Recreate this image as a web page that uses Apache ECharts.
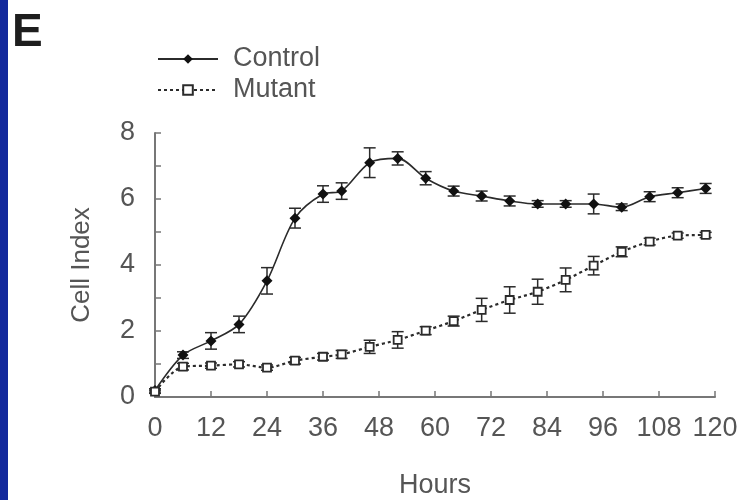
<!DOCTYPE html>
<html>
<head>
<meta charset="utf-8">
<script src="https://cdn.jsdelivr.net/npm/echarts@6/dist/echarts.min.js"></script>
<style>
  html, body { margin: 0; padding: 0; background: #fff; }
  #board { width: 748px; height: 500px; }
</style>
</head>
<body>
<div id="board"></div>
<script>
// time points (hours)
var hours = [0, 6, 12, 18, 24, 30, 36, 40, 46, 52, 58, 64, 70, 76, 82, 88, 94, 100, 106, 112, 118];
// Control
var controlMean = [0.2, 1.27, 1.7, 2.2, 3.52, 5.42, 6.15, 6.24, 7.1, 7.23, 6.63, 6.24, 6.09, 5.94, 5.85, 5.85, 5.85, 5.75, 6.07, 6.19, 6.32];
var controlErr = [0.05, 0.1, 0.25, 0.25, 0.4, 0.3, 0.25, 0.25, 0.45, 0.2, 0.2, 0.15, 0.15, 0.15, 0.1, 0.1, 0.3, 0.1, 0.15, 0.15, 0.15];
// Mutant
var mutantMean = [0.16, 0.92, 0.95, 0.99, 0.89, 1.1, 1.22, 1.29, 1.52, 1.73, 2.01, 2.3, 2.64, 2.94, 3.19, 3.55, 3.98, 4.4, 4.71, 4.89, 4.91];
var mutantErr = [0.05, 0.1, 0.08, 0.08, 0.08, 0.1, 0.1, 0.12, 0.2, 0.25, 0.12, 0.15, 0.35, 0.4, 0.38, 0.36, 0.28, 0.15, 0.1, 0.08, 0.08];
// axis ticks
var yTicks = [0, 2, 4, 6, 8];
var xTicks = [0, 12, 24, 36, 48, 60, 72, 84, 96, 108, 120];

var dark = "#2b2b2b";
var grayText = "#555";

function pairs(mean) {
  return hours.map(function (h, i) { return [h, mean[i]]; });
}
function errData(mean, err) {
  return hours.map(function (h, i) { return [h, mean[i] - err[i], mean[i] + err[i]]; });
}
function errRender(params, api) {
  var x = api.value(0);
  var lo = api.coord([x, api.value(1)]);
  var hi = api.coord([x, api.value(2)]);
  var w = 6;
  var st = { stroke: dark, lineWidth: 1.5 };
  return {
    type: "group",
    children: [
      { type: "line", shape: { x1: lo[0], y1: lo[1], x2: hi[0], y2: hi[1] }, style: st },
      { type: "line", shape: { x1: lo[0] - w, y1: lo[1], x2: lo[0] + w, y2: lo[1] }, style: st },
      { type: "line", shape: { x1: hi[0] - w, y1: hi[1], x2: hi[0] + w, y2: hi[1] }, style: st }
    ]
  };
}

var chart = echarts.init(document.getElementById("board"));
chart.setOption({
  animation: false,
  backgroundColor: "#fff",
  textStyle: { fontFamily: "Liberation Sans, Arial, sans-serif" },
  graphic: [
    { type: "rect", left: 0, top: 0, shape: { width: 8, height: 500 }, style: { fill: "#13299c" } },
    { type: "text", left: 12, top: 10, style: { text: "E", font: "bold 46px Liberation Sans, Arial, sans-serif", fill: "#1e1e1e" } }
  ],
  legend: {
    orient: "vertical",
    left: 157,
    top: 45,
    padding: 0,
    itemWidth: 60,
    itemHeight: 12,
    itemGap: 3,
    textStyle: { fontSize: 27, color: grayText, lineHeight: 28, padding: [0, 0, 0, 10] },
    data: ["Control", "Mutant"]
  },
  grid: { left: 155, right: 33, top: 133, bottom: 103, outerBoundsMode: "none" },
  xAxis: {
    type: "value",
    min: 0,
    max: 120,
    interval: 12,
    name: "Hours",
    nameLocation: "middle",
    nameGap: 75,
    nameTextStyle: { fontSize: 27, color: grayText },
    axisLine: { lineStyle: { color: "#777", width: 2 } },
    axisTick: { inside: true, length: 6, lineStyle: { color: "#777", width: 1.5 } },
    axisLabel: {
      fontSize: 27, color: grayText, margin: 18,
      formatter: function (v) { return xTicks.indexOf(v) >= 0 ? String(v) : ""; }
    },
    splitLine: { show: false }
  },
  yAxis: {
    type: "value",
    min: 0,
    max: 8,
    interval: 1,
    name: "Cell Index",
    nameLocation: "middle",
    nameGap: 60,
    nameTextStyle: { fontSize: 26, color: grayText },
    axisLine: { show: true, lineStyle: { color: "#777", width: 2 } },
    axisTick: { show: true, inside: true, length: 6, lineStyle: { color: "#777", width: 1.5 } },
    axisLabel: {
      fontSize: 27, color: grayText, margin: 20,
      formatter: function (v) { return yTicks.indexOf(v) >= 0 ? String(v) : ""; }
    },
    splitLine: { show: false }
  },
  series: [
    {
      type: "custom",
      name: "controlErr",
      renderItem: errRender,
      data: errData(controlMean, controlErr),
      encode: { x: 0, y: [1, 2] },
      z: 1
    },
    {
      type: "custom",
      name: "mutantErr",
      renderItem: errRender,
      data: errData(mutantMean, mutantErr),
      encode: { x: 0, y: [1, 2] },
      z: 1
    },
    {
      name: "Control",
      type: "line",
      smooth: 0.3,
      data: pairs(controlMean),
      symbol: "diamond",
      symbolSize: 11,
      itemStyle: { color: "#111" },
      lineStyle: { color: dark, width: 1.6 },
      z: 3
    },
    {
      name: "Mutant",
      type: "line",
      smooth: 0.3,
      data: pairs(mutantMean),
      symbol: "rect",
      symbolSize: 8,
      itemStyle: { color: "#fff", borderColor: dark, borderWidth: 1.8 },
      lineStyle: { color: dark, width: 2.2, type: [3, 3] },
      z: 3
    }
  ]
});
</script>
</body>
</html>
